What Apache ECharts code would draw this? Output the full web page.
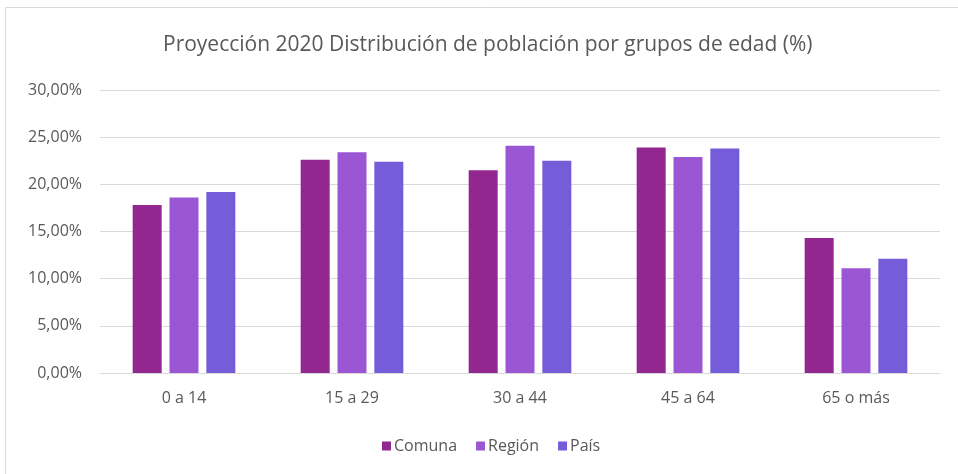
<!DOCTYPE html>
<html>
<head>
<meta charset="utf-8">
<script src="https://cdn.jsdelivr.net/npm/echarts@6/dist/echarts.min.js"></script>
<style>
  html, body { margin: 0; padding: 0; background: #fff; }
  #main { width: 958px; height: 474px; }
</style>
</head>
<body>
<div id="main"></div>
<script>
var categories = ['0 a 14', '15 a 29', '30 a 44', '45 a 64', '65 o más'];
var comuna = [17.8, 22.6, 21.5, 23.9, 14.3];
var region = [18.6, 23.4, 24.1, 22.9, 11.1];
var pais = [19.2, 22.4, 22.5, 23.8, 12.1];
var seriesNames = ['Comuna', 'Región', 'País'];
var colors = ['#92278f', '#9b57d3', '#755dd9'];

var myChart = echarts.init(document.getElementById('main'));

// etiqueta con coma decimal
function pct (v) {
  return v.toFixed(2).replace('.', ',') + '%';
}

function bar (name, data, color) {
  return {
    name: name,
    type: 'bar',
    data: data,
    barWidth: 29,
    barGap: '27%',
    itemStyle: { color: color }
  };
}

myChart.setOption({
  animation: false,
  textStyle: { fontFamily: 'Open Sans' },
  title: {
    text: 'Proyección 2020 Distribución de población por grupos de edad (%)',
    left: 158,
    top: 30,
    textStyle: { fontSize: 21, fontWeight: 'normal', color: '#595959', fontFamily: 'Open Sans' }
  },
  graphic: [{
    type: 'rect',
    shape: { x: 5.5, y: 7.5, width: 960, height: 470 },
    style: { fill: 'none', stroke: '#d9d9d9', lineWidth: 1 },
    silent: true
  }],
  legend: {
    data: seriesNames,
    top: 438,
    left: 382,
    padding: 0,
    itemWidth: 9,
    itemHeight: 9,
    itemGap: 19,
    icon: 'rect',
    textStyle: { fontSize: 16, color: '#595959', padding: [0, 0, 0, -2] }
  },
  grid: { left: 100, right: 18, top: 90, bottom: 101 },
  xAxis: {
    type: 'category',
    data: categories,
    axisTick: { show: false },
    axisLine: { lineStyle: { color: '#d9d9d9', width: 1 } },
    axisLabel: { fontSize: 16, color: '#595959', margin: 17 }
  },
  yAxis: {
    type: 'value',
    min: 0,
    max: 30,
    interval: 5,
    axisLabel: { fontSize: 16, color: '#595959', formatter: pct, margin: 18 },
    splitLine: { lineStyle: { color: '#d9d9d9', width: 1 } },
    axisLine: { show: false },
    axisTick: { show: false }
  },
  series: [
    bar(seriesNames[0], comuna, colors[0]),
    bar(seriesNames[1], region, colors[1]),
    bar(seriesNames[2], pais, colors[2])
  ]
});
</script>
</body>
</html>
